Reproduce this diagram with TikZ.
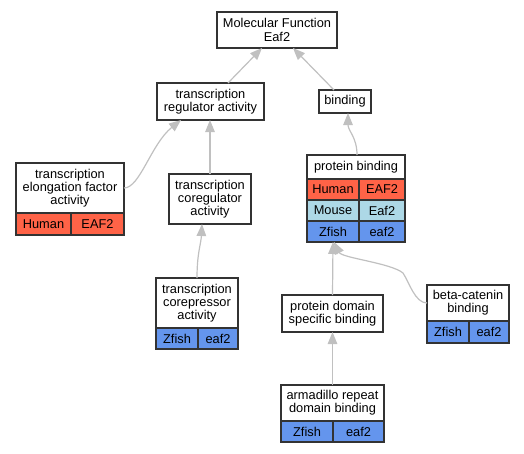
\documentclass[tikz,border=0pt]{standalone}
\usepackage{fontspec}
\setmainfont{Liberation Sans}
\usetikzlibrary{arrows.meta,calc}
\definecolor{human}{HTML}{FF6347}
\definecolor{mouse}{HTML}{ADD8E6}
\definecolor{zfish}{HTML}{6495ED}
\definecolor{edgec}{HTML}{C0C0C0}
\definecolor{bordc}{HTML}{333333}
\tikzset{
 cell/.style={draw=bordc, line width=1.2pt, inner sep=0pt, outer sep=0pt, align=center,
   font=\fontsize{12.8}{13.3}\selectfont, fill=white},
 edge/.style={draw=edgec, line width=1.2pt, -{Triangle[length=12pt,width=9.5pt]}},
}
\begin{document}
\begin{tikzpicture}[x=1pt,y=-1pt]
\useasboundingbox (0,0) rectangle (524,453);
% nodes
\node[cell, minimum width=120pt, minimum height=36pt] (mf) at (277,30) {Molecular Function\\Eaf2};
\node[cell, minimum width=107pt, minimum height=37pt] (tra) at (210.5,101.5) {transcription\\regulator activity};
\node[cell, minimum width=52pt, minimum height=23pt] (bind) at (345,101.5) {binding};
% protein binding table
\node[cell, minimum width=98pt, minimum height=24pt] (pbh) at (356,167) {protein binding};
\node[cell, fill=human, minimum width=52pt, minimum height=21pt] (pbhl) at (333,189.5) {Human};
\node[cell, fill=human, minimum width=46pt, minimum height=21pt] (pbhr) at (382,189.5) {EAF2};
\node[cell, fill=mouse, minimum width=52pt, minimum height=21pt] (pbml) at (333,210.5) {Mouse};
\node[cell, fill=mouse, minimum width=46pt, minimum height=21pt] (pbmr) at (382,210.5) {Eaf2};
\node[cell, fill=zfish, minimum width=52pt, minimum height=21pt] (pbzl) at (333,231.5) {Zfish};
\node[cell, fill=zfish, minimum width=46pt, minimum height=21pt] (pbzr) at (382,231.5) {eaf2};
% elongation factor
\node[cell, minimum width=108pt, minimum height=50pt] (tefah) at (70,188) {transcription\\elongation factor\\activity};
\node[cell, fill=human, minimum width=55pt, minimum height=22pt] (tefa1) at (43.5,224) {Human};
\node[cell, fill=human, minimum width=53pt, minimum height=22pt] (tefa2) at (97.5,224) {EAF2};
% coregulator
\node[cell, minimum width=82pt, minimum height=50pt] (tca) at (210,199) {transcription\\coregulator\\activity};
% corepressor
\node[cell, minimum width=82pt, minimum height=50pt] (tcrh) at (197,303) {transcription\\corepressor\\activity};
\node[cell, fill=zfish, minimum width=42pt, minimum height=21pt] (tcr1) at (177,338.5) {Zfish};
\node[cell, fill=zfish, minimum width=40pt, minimum height=21pt] (tcr2) at (218,338.5) {eaf2};
% protein domain specific binding
\node[cell, minimum width=101pt, minimum height=37pt] (pdsb) at (332.5,313.5) {protein domain\\specific binding};
% beta-catenin
\node[cell, minimum width=82pt, minimum height=36pt] (bch) at (468,303) {beta-catenin\\binding};
\node[cell, fill=zfish, minimum width=42pt, minimum height=22pt] (bc1) at (448,332) {Zfish};
\node[cell, fill=zfish, minimum width=40pt, minimum height=22pt] (bc2) at (489,332) {eaf2};
% armadillo
\node[cell, minimum width=103pt, minimum height=36pt] (ardbh) at (332.5,403) {armadillo repeat\\domain binding};
\node[cell, fill=zfish, minimum width=52pt, minimum height=21pt] (ardb1) at (307,431.5) {Zfish};
\node[cell, fill=zfish, minimum width=51pt, minimum height=21pt] (ardb2) at (358.5,431.5) {eaf2};
% edges
\draw[edge] ([xshift=17.5pt]tra.north) -- ([xshift=-15pt]mf.south);
\draw[edge] ([xshift=-11pt]bind.north) -- ([xshift=16pt]mf.south);
\draw[edge] (tefah.east) .. controls +(16,0) and +(-30,24) .. ([xshift=-29.5pt]tra.south);
\draw[edge] (tca.north) -- (tca.north |- tra.south);
\draw[edge] (tcrh.north) .. controls +(0,-25) and +(-1,20) .. ([xshift=-8pt]tca.south);
\draw[edge] ([xshift=1pt]pbh.north) .. controls +(0,-18) and +(0,18) .. ([xshift=3pt]bind.south);
\draw[edge] (pdsb.north) -- (pbzl.south);
\coordinate (bcmid) at (403,273);
\draw[edge] (bch.west) .. controls +(-12,0) and +(6,9) .. (bcmid) .. controls +(-12,-10) and +(8,16) .. ([xshift=1pt]pbzl.south);
\draw[edge] (ardbh.north) -- (pdsb.south);
\end{tikzpicture}
\end{document}
